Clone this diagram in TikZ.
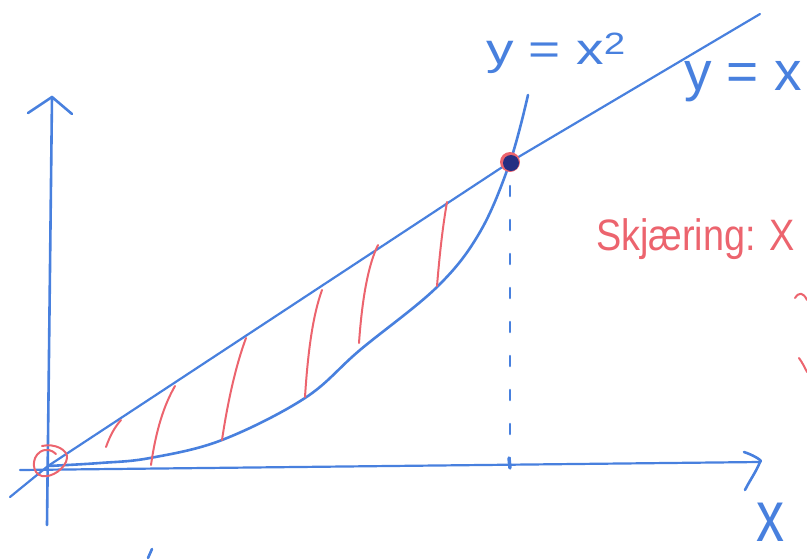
\documentclass[tikz,border=0pt]{standalone}
\usepackage{fontspec}
\setmainfont{Liberation Sans}
\definecolor{penblue}{RGB}{72,128,222}
\definecolor{penred}{RGB}{236,100,110}
\definecolor{dotnavy}{RGB}{38,46,130}
\begin{document}
\begin{tikzpicture}[x=1pt,y=-1pt,line cap=round,line join=round,
  pen/.style={draw=penblue,line width=2.6pt},
  thinpen/.style={draw=penblue,line width=2.2pt},
  redpen/.style={draw=penred,line width=2pt},
  bluelbl/.style={text=penblue,inner sep=0pt,anchor=base west},
  redlbl/.style={text=penred,inner sep=0pt,anchor=base west}]
\useasboundingbox (0,0) rectangle (807,558);
\clip (0,0) rectangle (807,558);
% key points
\coordinate (O) at (48,466);
\coordinate (yb) at (47,525);
\coordinate (yt) at (52,97);
\coordinate (xl) at (20,470);
\coordinate (xr) at (760,462);
\coordinate (lb) at (10,497);
\coordinate (lt) at (760,14);
\coordinate (P) at (510,162);
\coordinate (dtop) at (510,186);
\coordinate (dbot) at (510,466);
% axes
\draw[pen] (yb) -- (yt);
\draw[pen] (28,113) -- (yt) -- (72,114);
\draw[thinpen] (xl) -- (xr);
\draw[pen] (744,452) .. controls (756,456) and (764,462) .. (xr) .. controls (756,472) and (750,480) .. (745,490);
% y = x
\draw[thinpen] (lb) -- (O) -- (P) -- (lt);
% y = x^2
\draw[pen] plot[smooth,tension=0.6] coordinates {(48,466) (100,463) (150,458) (222,440) (305,398) (360,350) (437,287) (480,232) (P) (528,95)};
% hatching
\draw[redpen] (106,447) .. controls (110,436) and (114,428) .. (121,420);
\draw[redpen] (151,465) .. controls (156,430) and (164,405) .. (175,386);
\draw[redpen] (222,440) .. controls (228,400) and (236,365) .. (246,338);
\draw[redpen] (305,397) .. controls (308,350) and (313,315) .. (322,290);
\draw[redpen] (359,343) .. controls (362,300) and (368,265) .. (378,245);
\draw[redpen] (437,286) .. controls (440,250) and (443,225) .. (447,202);
% dashed vertical
\draw[pen,dash pattern=on 10pt off 24pt] (dtop) -- (dbot);
\draw[pen,line width=3.5pt] (509,458) -- (510,468);
% intersection dot
\fill[penred] (P) circle[radius=10pt];
\fill[dotnavy] (511,163) circle[radius=8pt];
% zero at origin
\draw[redpen] (42,446) .. controls (55,443) and (68,450) .. (67,458) .. controls (66,468) and (52,478) .. (42,476) .. controls (32,474) and (31,458) .. (40,452) .. controls (46,448) and (52,450) .. (56,454);
% labels
\node[bluelbl,font=\fontsize{44}{44}\selectfont,xscale=1.25] (lpar) at (486,64) {y = x\textsuperscript{2}};
\node[bluelbl,font=\fontsize{50}{50}\selectfont,xscale=1.1,yscale=1.1] (llin) at (684,90) {y = x};
\node[bluelbl,font=\fontsize{56}{56}\selectfont,yscale=1.3] (lx) at (756,541) {x};
\node[redlbl,font=\fontsize{44}{44}\selectfont,xscale=0.86] (lsk) at (596,250) {Skjæring: X};
% fragments at the edges
\draw[redpen] (795,298) .. controls (799,292) and (803,292) .. (807,300);
\draw[redpen] (799,358) .. controls (802,362) and (805,368) .. (807,372);
\draw[pen] (148,558) -- (152,549);
\end{tikzpicture}
\end{document}
